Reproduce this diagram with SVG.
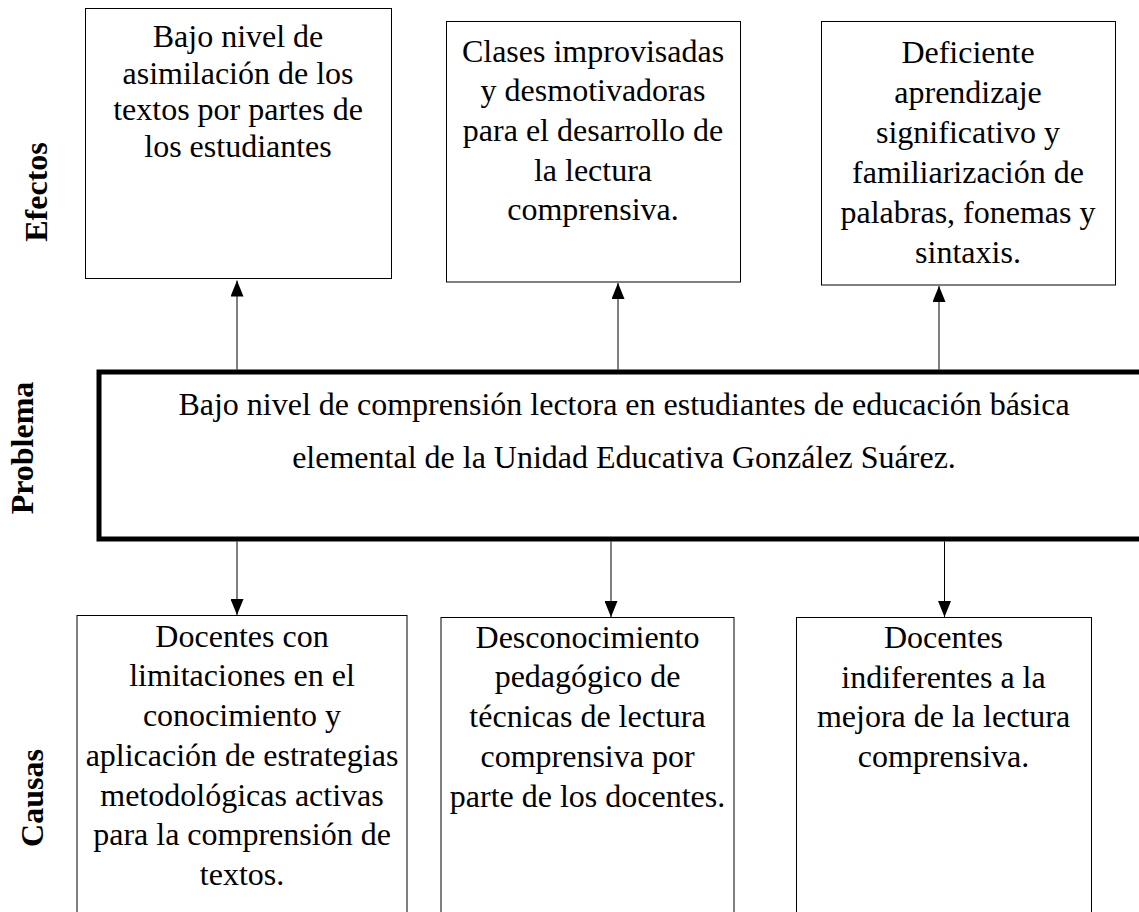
<svg xmlns="http://www.w3.org/2000/svg" width="1139" height="912" viewBox="0 0 1139 912">
<style>
.box{fill:#fff;stroke:#000;stroke-width:1}
.prob{fill:#fff;stroke:#000;stroke-width:5}
.t{font-family:"Liberation Serif","Times New Roman",serif;font-size:32px;fill:#000;text-anchor:middle}
.lab{font-family:"Liberation Serif","Times New Roman",serif;font-size:32px;font-weight:bold;fill:#000;text-anchor:middle}
.con{stroke:#000;stroke-width:1;fill:none;marker-end:url(#arr)}
</style>
<defs>
<marker id="arr" viewBox="0 0 16 13" refX="16" refY="6.5" markerWidth="16" markerHeight="13" markerUnits="userSpaceOnUse" orient="auto">
<path d="M0,0 L16,6.5 L0,13 z" fill="#000"/>
</marker>
</defs>
<rect width="1139" height="912" fill="#fff"/>

<g id="labels">
<text class="lab" transform="translate(46.5,192) rotate(-90)">Efectos</text>
<text class="lab" transform="translate(33,448) rotate(-90)">Problema</text>
<text class="lab" transform="translate(43,798) rotate(-90)">Causas</text>
</g>

<g id="efecto1">
<rect class="box" x="85.5" y="8.5" width="306" height="270"/>
<text class="t" x="238" y="47">Bajo nivel de</text>
<text class="t" x="238" y="83.7">asimilación de los</text>
<text class="t" x="238" y="120.4">textos por partes de</text>
<text class="t" x="238" y="157">los estudiantes</text>
</g>

<g id="efecto2">
<rect class="box" x="446.5" y="21.5" width="294" height="260.5"/>
<text class="t" x="593" y="61.5">Clases improvisadas</text>
<text class="t" x="593" y="101.2">y desmotivadoras</text>
<text class="t" x="593" y="140.9">para el desarrollo de</text>
<text class="t" x="593" y="180.6">la lectura</text>
<text class="t" x="593" y="220.3">comprensiva.</text>
</g>

<g id="efecto3">
<rect class="box" x="821.5" y="21.5" width="294" height="263.5"/>
<text class="t" x="968" y="63">Deficiente</text>
<text class="t" x="968" y="103">aprendizaje</text>
<text class="t" x="968" y="143">significativo y</text>
<text class="t" x="968" y="183">familiarización de</text>
<text class="t" x="968" y="223">palabras, fonemas y</text>
<text class="t" x="968" y="263">sintaxis.</text>
</g>

<g id="problema">
<rect class="prob" x="99" y="372" width="1055" height="167"/>
<text class="t" x="624" y="415">Bajo nivel de comprensión lectora en estudiantes de educación básica</text>
<text class="t" x="624" y="468">elemental de la Unidad Educativa González Suárez.</text>
</g>

<g id="causa1">
<rect class="box" x="77" y="615.5" width="330" height="310"/>
<text class="t" x="242" y="646.7">Docentes con</text>
<text class="t" x="242" y="686.4">limitaciones en el</text>
<text class="t" x="242" y="726.1">conocimiento y</text>
<text class="t" x="242" y="765.8">aplicación de estrategias</text>
<text class="t" x="242" y="805.5">metodológicas activas</text>
<text class="t" x="242" y="845.2">para la comprensión de</text>
<text class="t" x="242" y="884.9">textos.</text>
</g>

<g id="causa2">
<rect class="box" x="441" y="617.5" width="293" height="310"/>
<text class="t" x="587.5" y="647.5">Desconocimiento</text>
<text class="t" x="587.5" y="687.3">pedagógico de</text>
<text class="t" x="587.5" y="727.1">técnicas de lectura</text>
<text class="t" x="587.5" y="766.9">comprensiva por</text>
<text class="t" x="587.5" y="806.7">parte de los docentes.</text>
</g>

<g id="causa3">
<rect class="box" x="796.5" y="617.5" width="295" height="310"/>
<text class="t" x="943.5" y="648">Docentes</text>
<text class="t" x="943.5" y="687.7">indiferentes a la</text>
<text class="t" x="943.5" y="727.3">mejora de la lectura</text>
<text class="t" x="943.5" y="767">comprensiva.</text>
</g>

<g id="connectors">
<line class="con" x1="237" y1="369.5" x2="237" y2="280.5"/>
<line class="con" x1="618" y1="369.5" x2="618" y2="283"/>
<line class="con" x1="939" y1="369.5" x2="939" y2="286"/>
<line class="con" x1="237" y1="541.5" x2="237" y2="615"/>
<line class="con" x1="611" y1="541.5" x2="611" y2="617"/>
<line class="con" x1="944.5" y1="541.5" x2="944.5" y2="617"/>
</g>
</svg>
